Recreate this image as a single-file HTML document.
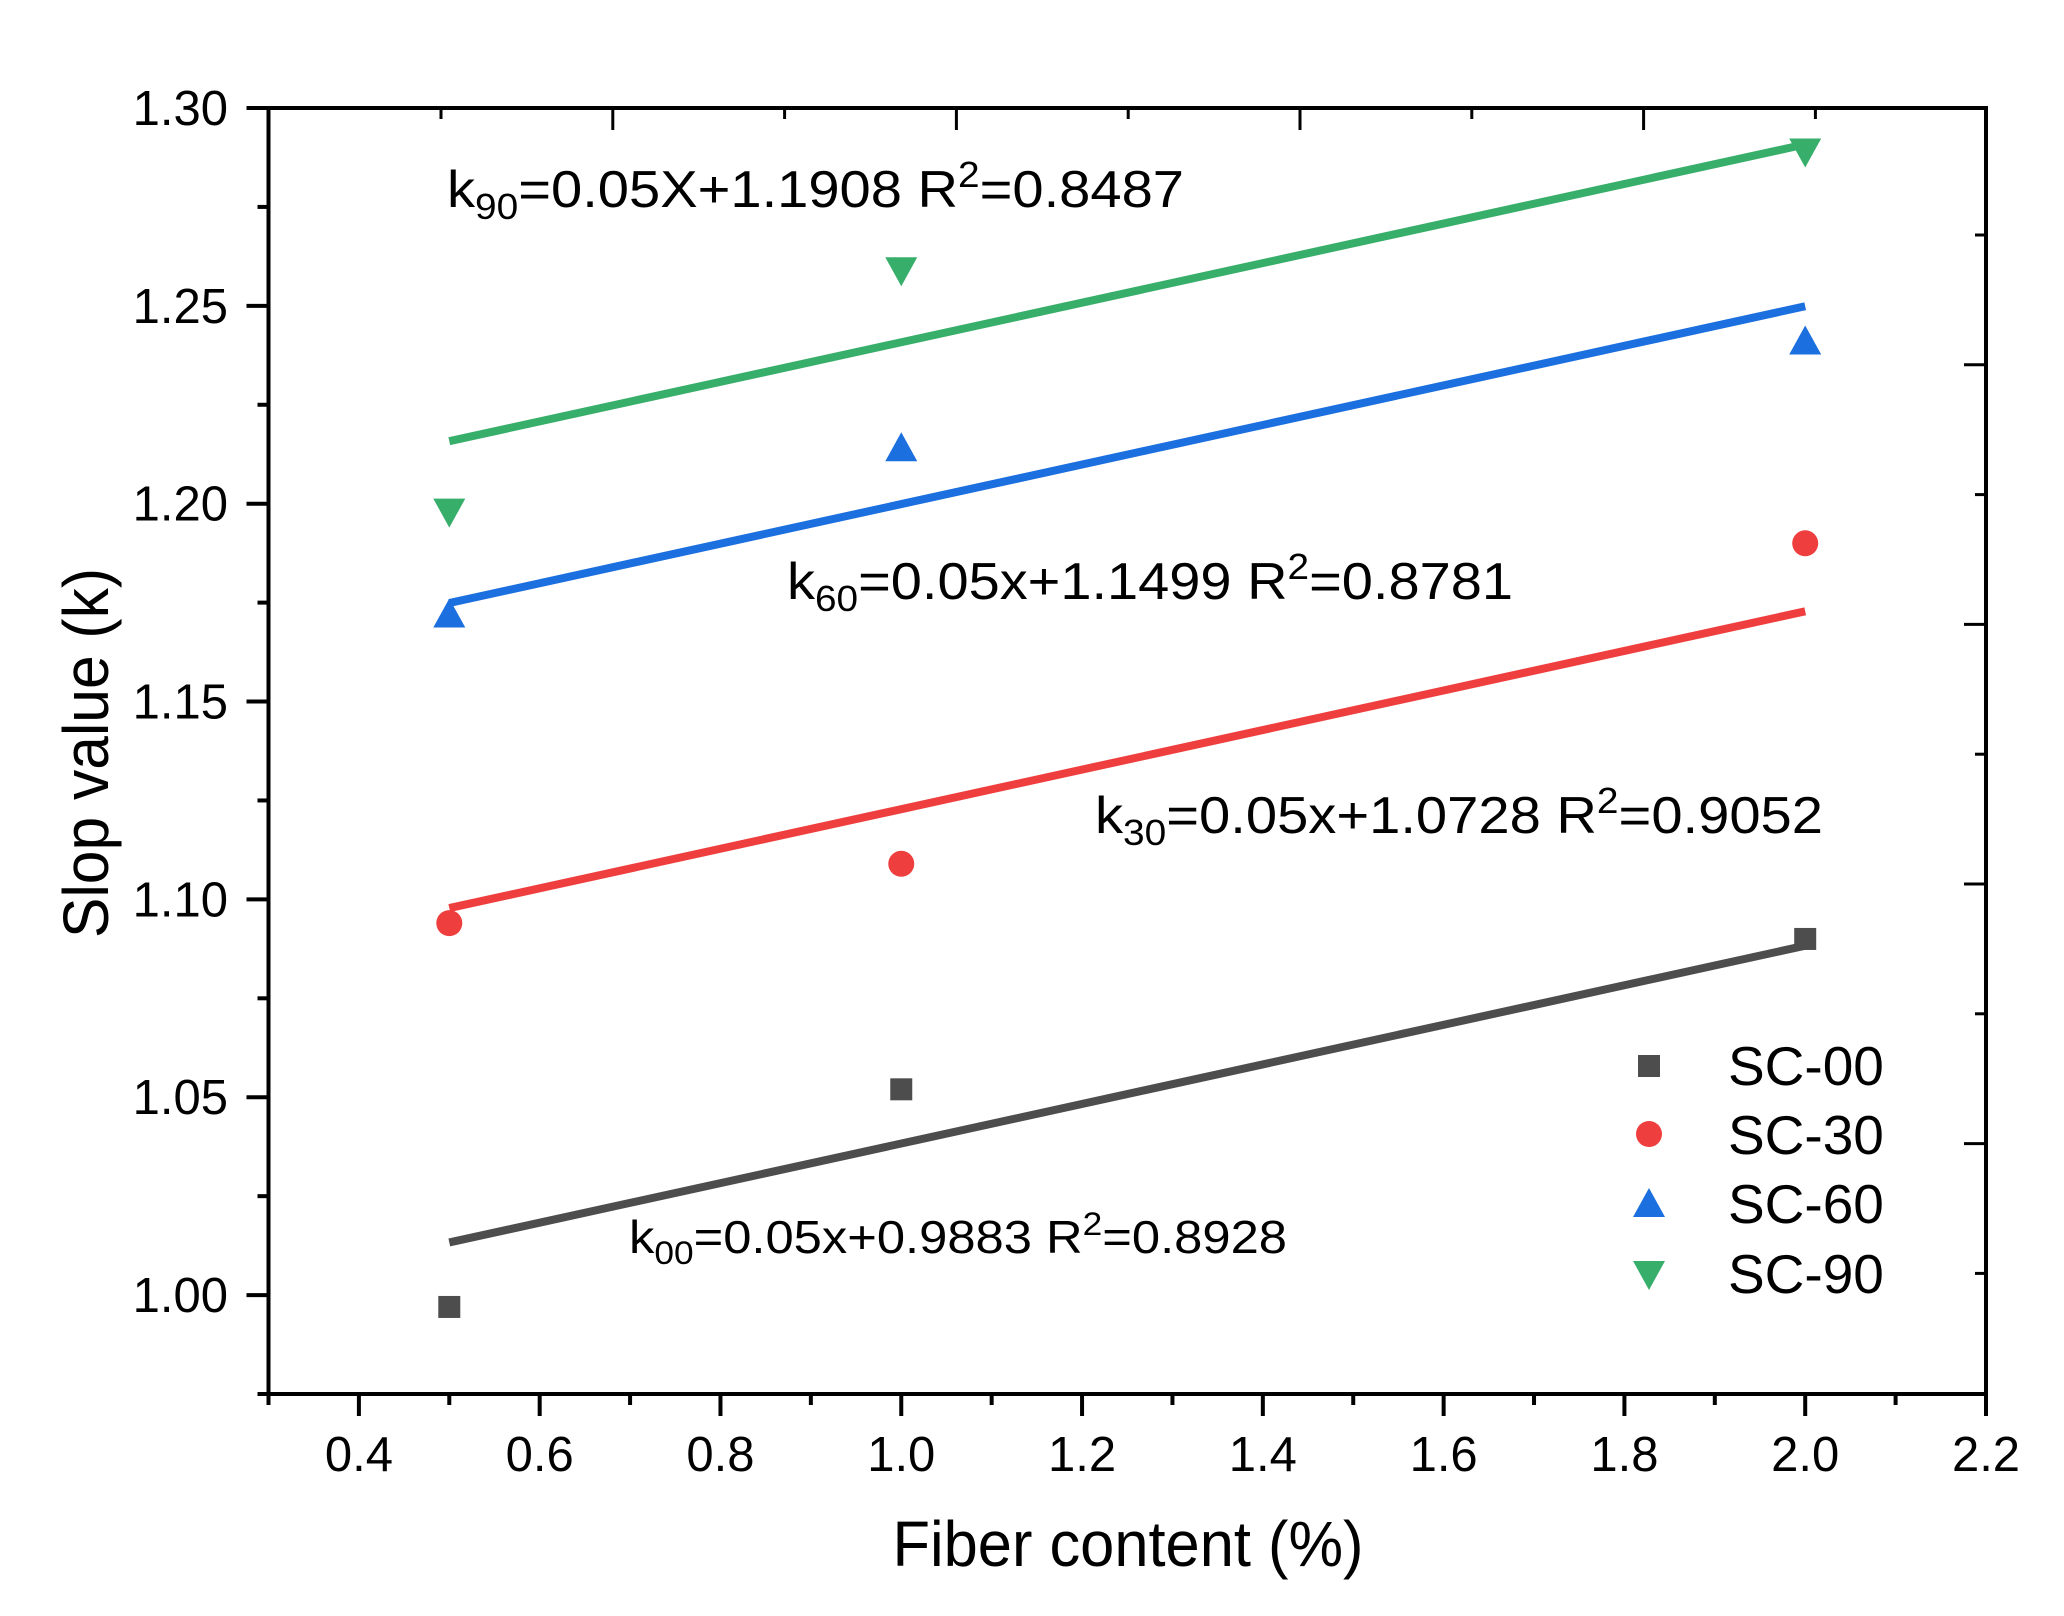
<!DOCTYPE html>
<html><head><meta charset="utf-8"><style>
html,body{margin:0;padding:0;background:#fff;}
svg{display:block;font-family:"Liberation Sans",Arial,sans-serif;}
</style></head><body>
<svg id="chart" width="2064" height="1616" viewBox="0 0 2064 1616" xmlns="http://www.w3.org/2000/svg">
<rect width="2064" height="1616" fill="#fff"/>
<g id="marks"></g>
<g id="axes"></g>
</svg>
<script>
const xValues = [0.5, 1.0, 2.0];
const seriesNames = ["SC-00", "SC-30", "SC-60", "SC-90"];
const sc00 = [0.997, 1.052, 1.090];
const sc30 = [1.094, 1.109, 1.190];
const sc60 = [1.172, 1.214, 1.241];
const sc90 = [1.198, 1.259, 1.289];
const fitSlopes = [0.05, 0.05, 0.05, 0.05];
const fitIntercepts = [0.9883, 1.0728, 1.1499, 1.1908];
const xTickLabels = ["0.4","0.6","0.8","1.0","1.2","1.4","1.6","1.8","2.0","2.2"];
const yTickLabels = ["1.00","1.05","1.10","1.15","1.20","1.25","1.30"];

const NS = "http://www.w3.org/2000/svg";
const L = 268.5, R = 1986, T = 108, B = 1394;
const XMIN = 0.3, XMAX = 2.2, YMIN = 0.975, YMAX = 1.30;
function xs(v){ return L + (v - XMIN) / (XMAX - XMIN) * (R - L); }
function ys(v){ return B - (v - YMIN) / (YMAX - YMIN) * (B - T); }
function mk(tag, attrs, parent){
  const e = document.createElementNS(NS, tag);
  for (const k in attrs) e.setAttribute(k, attrs[k]);
  parent.appendChild(e);
  return e;
}
const marks = document.getElementById('marks');
const axes = document.getElementById('axes');
const colors = ["#4d4d4d", "#ef3e3e", "#1b6fdf", "#38ae6b"];
const allSeries = [sc00, sc30, sc60, sc90];
const shapes = ["square", "circle", "up", "down"];

function marker(shape, cx, cy, color, parent){
  let e;
  if (shape === "square") e = mk('rect', {x: cx-11, y: cy-11, width: 22, height: 22, fill: color}, parent);
  else if (shape === "circle") e = mk('circle', {cx: cx, cy: cy, r: 13, fill: color}, parent);
  else if (shape === "up") e = mk('polygon', {points: `${cx-16},${cy+13} ${cx+16},${cy+13} ${cx},${cy-16}`, fill: color}, parent);
  else e = mk('polygon', {points: `${cx-16},${cy-13} ${cx+16},${cy-13} ${cx},${cy+16}`, fill: color}, parent);
  return e;
}

// fit lines
for (let s = 0; s < 4; s++){
  const x0 = xValues[0], x1 = xValues[xValues.length-1];
  const ln = mk('line', {x1: xs(x0), y1: ys(fitSlopes[s]*x0 + fitIntercepts[s]), x2: xs(x1), y2: ys(fitSlopes[s]*x1 + fitIntercepts[s]), stroke: colors[s], 'stroke-width': 8}, marks);
  
  
}
// points
for (let s = 0; s < 4; s++){
  for (let i = 0; i < xValues.length; i++){
    const p = marker(shapes[s], xs(xValues[i]), ys(allSeries[s][i]), colors[s], marks);
    
    
  }
}

// frame
const frame = mk('rect', {x: L, y: T, width: R-L, height: B-T, fill: 'none', stroke: '#000', 'stroke-width': 4}, axes);



// bottom ticks
for (let k = 0; k <= 19; k++){
  const v = XMIN + k*0.1;
  const major = (k % 2 === 1);
  const t = mk('line', {x1: xs(v), y1: B, x2: xs(v), y2: B + (major ? 22 : 11), stroke: '#000', 'stroke-width': 4}, axes);
  
  
}
for (let i = 0; i < xTickLabels.length; i++){
  const v = 0.4 + i*0.2;
  const t = mk('text', {x: xs(v), y: 1471, 'font-size': 49, 'text-anchor': 'middle', fill: '#000'}, axes);
  t.textContent = xTickLabels[i];
  
  
}
// left ticks
for (let k = 0; k <= 13; k++){
  const v = YMIN + k*0.025;
  const major = (k % 2 === 1);
  const t = mk('line', {x1: L, y1: ys(v), x2: L - (major ? 22 : 11), y2: ys(v), stroke: '#000', 'stroke-width': 4}, axes);
  
  
}
for (let i = 0; i < yTickLabels.length; i++){
  const v = 1.00 + i*0.05;
  const t = mk('text', {x: 228, y: ys(v) + 17, 'font-size': 49, 'text-anchor': 'end', fill: '#000'}, axes);
  t.textContent = yTickLabels[i];
  
  
}
// top (inward) ticks
for (let k = 0; k <= 8; k++){
  const x = 441 + k*171.8;
  const major = (k % 2 === 1);
  const t = mk('line', {x1: x, y1: T, x2: x, y2: T + (major ? 22 : 11), stroke: '#000', 'stroke-width': 3}, axes);
  
  
}
// right (inward) ticks
for (let k = 0; k <= 8; k++){
  const y = 235 + k*129.8;
  const major = (k % 2 === 1);
  const t = mk('line', {x1: R, y1: y, x2: R - (major ? 22 : 11), y2: y, stroke: '#000', 'stroke-width': 3}, axes);
  
  
}
</script>
<svg width="0" height="0"></svg>
<div style="position:absolute;left:0;top:0;width:2064px;height:1616px;pointer-events:none">
<svg width="2064" height="1616" style="font-family:'Liberation Sans',Arial,sans-serif">
<text x="1128" y="1566" font-size="64" text-anchor="middle" textLength="471" lengthAdjust="spacingAndGlyphs">Fiber content (%)</text>
<text transform="translate(108,753) rotate(-90)" font-size="64" text-anchor="middle" textLength="370" lengthAdjust="spacingAndGlyphs">Slop value (k)</text>

<text x="447" y="207" font-size="52" textLength="737" lengthAdjust="spacingAndGlyphs">k<tspan font-size="36" dy="12">90</tspan><tspan dy="-12">=0.05X+1.1908 R</tspan><tspan font-size="36" dy="-20">2</tspan><tspan dy="20">=0.8487</tspan></text>
<text x="787" y="599" font-size="52" textLength="726" lengthAdjust="spacingAndGlyphs">k<tspan font-size="36" dy="12">60</tspan><tspan dy="-12">=0.05x+1.1499 R</tspan><tspan font-size="36" dy="-20">2</tspan><tspan dy="20">=0.8781</tspan></text>
<text x="1095" y="833" font-size="52" textLength="728" lengthAdjust="spacingAndGlyphs">k<tspan font-size="36" dy="12">30</tspan><tspan dy="-12">=0.05x+1.0728 R</tspan><tspan font-size="36" dy="-20">2</tspan><tspan dy="20">=0.9052</tspan></text>
<text x="629" y="1253" font-size="46" textLength="658" lengthAdjust="spacingAndGlyphs">k<tspan font-size="32" dy="11">00</tspan><tspan dy="-11">=0.05x+0.9883 R</tspan><tspan font-size="32" dy="-18">2</tspan><tspan dy="18">=0.8928</tspan></text>

<g>
<rect x="1638" y="1055" width="22" height="22" fill="#4d4d4d"/>
<text x="1728" y="1085" font-size="55">SC-00</text>
<circle cx="1649" cy="1134" r="13" fill="#ef3e3e"/>
<text x="1728" y="1154" font-size="55">SC-30</text>
<polygon points="1633,1217 1665,1217 1649,1188" fill="#1b6fdf"/>
<text x="1728" y="1223" font-size="55">SC-60</text>
<polygon points="1633,1261 1665,1261 1649,1290" fill="#38ae6b"/>
<text x="1728" y="1293" font-size="55">SC-90</text>
</g>
</svg>
</div>
</body></html>
